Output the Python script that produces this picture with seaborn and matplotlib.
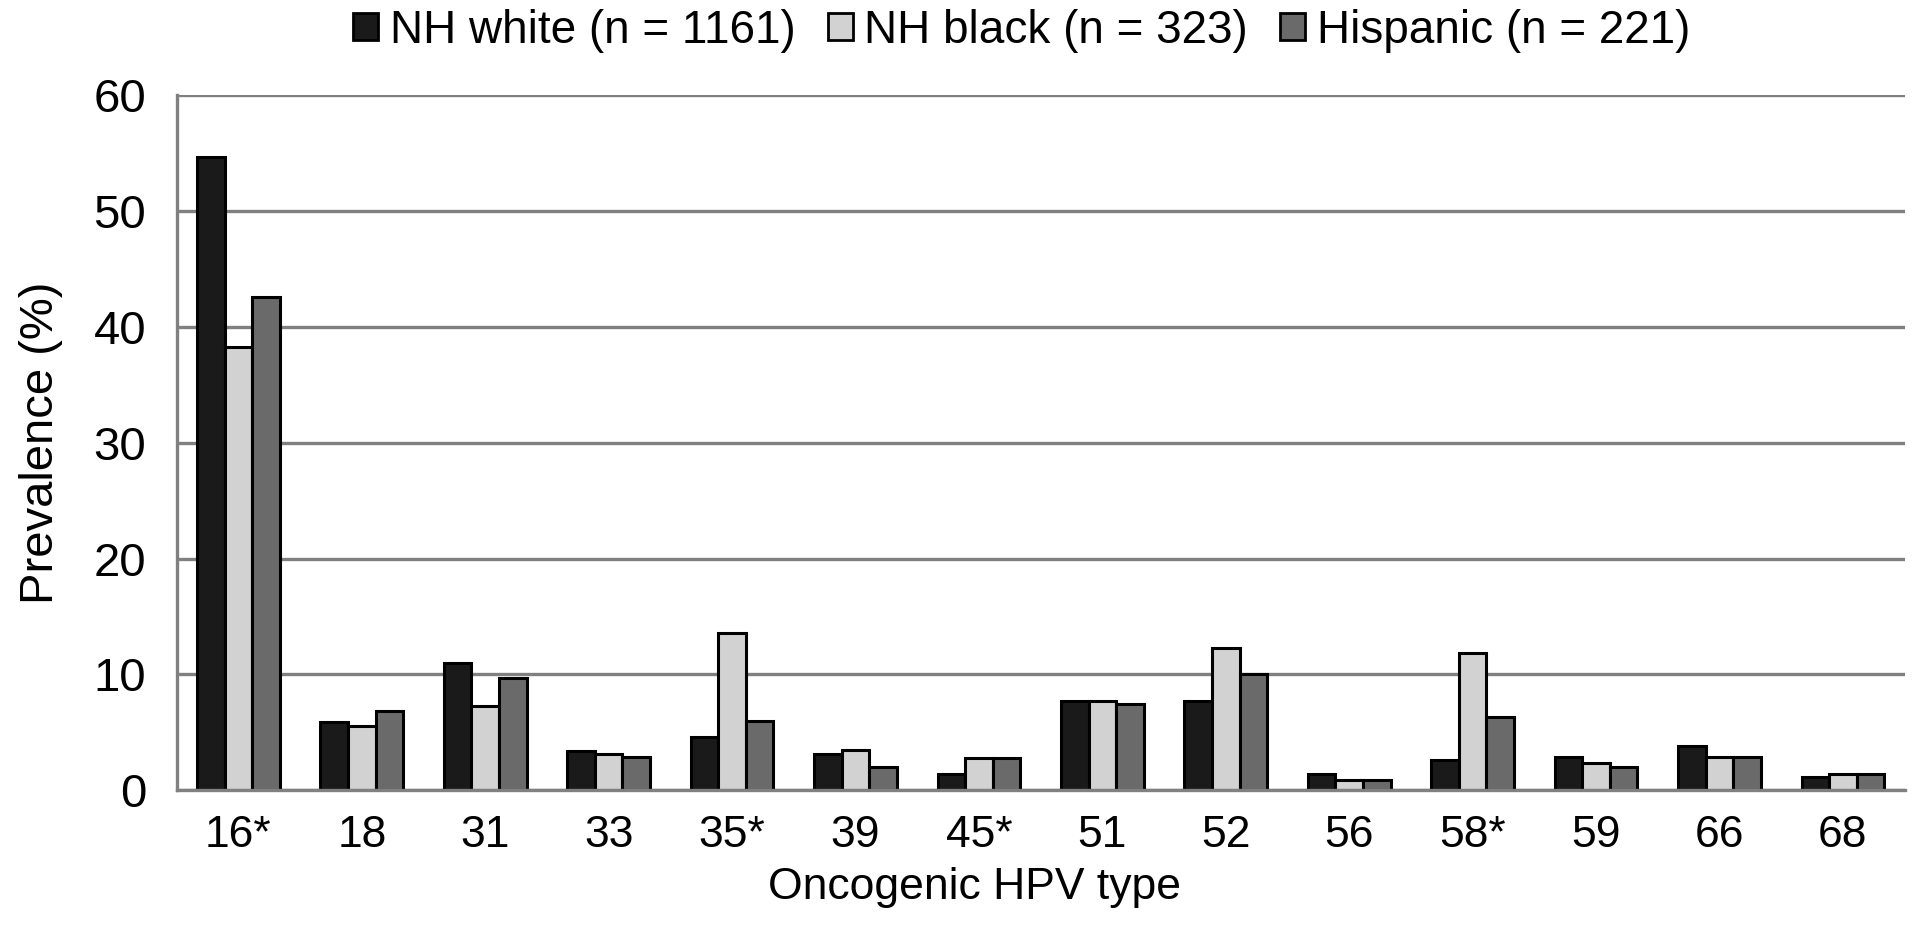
import numpy as np
import pandas as pd
import matplotlib
matplotlib.use("Agg")
import matplotlib.pyplot as plt
import seaborn as sns
from matplotlib.ticker import FixedLocator

types = ["16*", "18", "31", "33", "35*", "39", "45*", "51", "52", "56", "58*", "59", "66", "68"]
groups = ["NH white (n = 1161)", "NH black (n = 323)", "Hispanic (n = 221)"]
nh_white = [54.7, 5.9, 11.0, 3.4, 4.6, 3.1, 1.4, 7.7, 7.7, 1.4, 2.6, 2.9, 3.8, 1.1]
nh_black = [38.3, 5.5, 7.3, 3.1, 13.6, 3.5, 2.8, 7.7, 12.3, 0.85, 11.8, 2.3, 2.9, 1.4]
hispanic = [42.6, 6.8, 9.7, 2.85, 6.0, 2.0, 2.8, 7.4, 10.0, 0.85, 6.3, 2.0, 2.9, 1.4]
yticks = [0, 10, 20, 30, 40, 50, 60]

df = pd.DataFrame({
    "type": types * 3,
    "group": [groups[0]] * 14 + [groups[1]] * 14 + [groups[2]] * 14,
    "value": nh_white + nh_black + hispanic,
})

sns.set_theme(style="white")
plt.rcParams["font.family"] = ["Liberation Sans", "DejaVu Sans"]
plt.rcParams["text.color"] = "black"
plt.rcParams["axes.labelcolor"] = "black"
plt.rcParams["xtick.color"] = "black"
plt.rcParams["ytick.color"] = "black"

fig = plt.figure(figsize=(19.2, 9.44), dpi=100)
ax = fig.add_axes([0.092, 0.163, 0.900, 0.736])

palette = ["#1a1a1a", "#d2d2d2", "#6a6a6a"]
sns.barplot(data=df, x="type", y="value", hue="group", order=types,
            hue_order=groups, palette=palette, width=0.67, gap=0,
            edgecolor="black", linewidth=2.2, saturation=1, ax=ax, legend=True)

ax.set_ylim(0, 60)
ax.set_xlim(-0.5, len(types) - 0.5)
ax.set_yticks(yticks)
ax.yaxis.grid(True, color="#808080", linewidth=2.4)
ax.set_axisbelow(True)

for s in ["top", "right"]:
    ax.spines[s].set_visible(False)
for s in ["left", "bottom"]:
    ax.spines[s].set_color("#808080")
    ax.spines[s].set_linewidth(2.4)

FS = 34
XFS = 32
ax.tick_params(axis="y", which="major", length=14, width=2.4, color="#808080",
               labelsize=FS, pad=8, labelcolor="black")
ax.tick_params(axis="x", which="major", length=0, labelsize=XFS, pad=18,
               labelcolor="black")
ax.xaxis.set_minor_locator(FixedLocator(np.arange(-0.5, len(types), 1.0)))
ax.tick_params(axis="x", which="minor", length=14, width=2.4, color="#808080",
               direction="out")

ax.set_xlabel("Oncogenic HPV type", fontsize=XFS, va="center")
ax.xaxis.set_label_coords(0.462, -0.14)
ax.set_ylabel("Prevalence (%)", fontsize=FS, labelpad=22)

leg = ax.legend(loc="lower center", bbox_to_anchor=(0.489, 1.035), ncol=3,
                frameon=False, fontsize=33, handlelength=0.55, handleheight=0.55,
                handletextpad=0.25, columnspacing=0.7, borderaxespad=0)
for h in leg.legend_handles:
    h.set_edgecolor("black")
    h.set_linewidth(2)

fig.savefig("out.png", dpi=100, facecolor="white")
